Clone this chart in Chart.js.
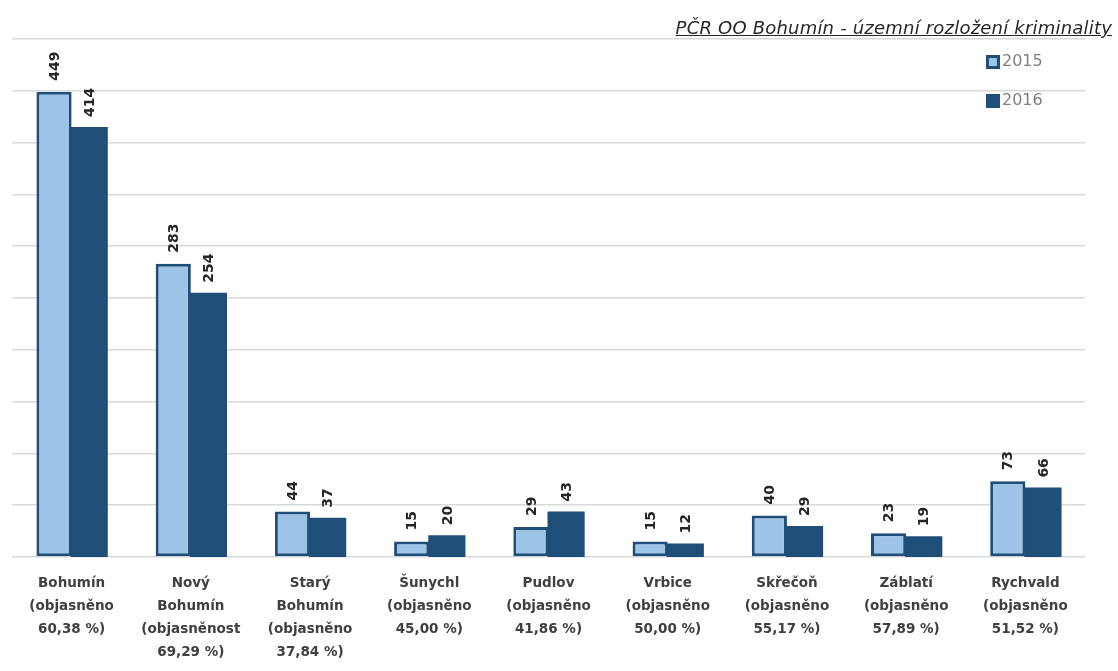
<!DOCTYPE html>
<html>
<head>
<meta charset="utf-8">
<script src="https://cdn.jsdelivr.net/npm/chart.js@4"></script>
<style>
    html, body { margin: 0; padding: 0; background: #fff; }
    #wrap { position: relative; width: 1118px; height: 671px; }
    #title {
        position: absolute; right: 6px; top: 17px;
        font: oblique 18px "DejaVu Sans", sans-serif;
        letter-spacing: 0.2px;
        color: #262626; text-decoration: underline;
        white-space: nowrap;
    }
</style>
</head>
<body>
<div id="wrap">
    <canvas id="chart" width="1118" height="671"></canvas>
    <div id="title">PČR OO Bohumín - územní rozložení kriminality</div>
</div>
<script>
// data
const categories = [
    ['Bohumín', '(objasněno', '60,38 %)'],
    ['Nový', 'Bohumín', '(objasněnost', '69,29 %)'],
    ['Starý', 'Bohumín', '(objasněno', '37,84 %)'],
    ['Šunychl', '(objasněno', '45,00 %)'],
    ['Pudlov', '(objasněno', '41,86 %)'],
    ['Vrbice', '(objasněno', '50,00 %)'],
    ['Skřečoň', '(objasněno', '55,17 %)'],
    ['Záblatí', '(objasněno', '57,89 %)'],
    ['Rychvald', '(objasněno', '51,52 %)']
];
const seriesNames = ['2015', '2016'];
const values2015 = [449, 283, 44, 15, 29, 15, 40, 23, 73];
const values2016 = [414, 254, 37, 20, 43, 12, 29, 19, 66];
const yMin = 0;
const yMax = 500;
const yStep = 50;

const LIGHT = '#9dc3e6';
const DARK = '#1f4e79';

// rotated value labels above each bar
const valueLabels = {
    id: 'valueLabels',
    afterDatasetsDraw(chart) {
        const ctx = chart.ctx;
        ctx.save();
        ctx.font = 'bold 14px "DejaVu Sans", sans-serif';
        ctx.fillStyle = '#262626';
        ctx.textAlign = 'left';
        ctx.textBaseline = 'middle';
        chart.data.datasets.forEach((ds, i) => {
            chart.getDatasetMeta(i).data.forEach((bar, j) => {
                ctx.save();
                ctx.translate(bar.x + 1, bar.y - 11);
                ctx.rotate(-Math.PI / 2);
                ctx.fillText(String(ds.data[j]), 0, 0);
                ctx.restore();
            });
        });
        ctx.restore();
    }
};

// small vertical legend in the top right corner
const cornerLegend = {
    id: 'cornerLegend',
    afterDraw(chart) {
        const ctx = chart.ctx;
        const x = 986, ys = [55, 94];
        ctx.save();
        ctx.font = '16px "DejaVu Sans", sans-serif';
        ctx.textBaseline = 'middle';
        chart.data.datasets.forEach((ds, i) => {
            const y = ys[i];
            ctx.fillStyle = ds.borderColor;
            ctx.fillRect(x, y, 14, 14);
            if (i === 0) {
                ctx.fillStyle = ds.backgroundColor;
                ctx.fillRect(x + 3, y + 3, 8, 8);
            }
            ctx.fillStyle = '#7f7f7f';
            ctx.fillText(ds.label, x + 16, y + 7);
        });
        ctx.restore();
    }
};

new Chart(document.getElementById('chart'), {
    type: 'bar',
    data: {
        labels: categories,
        datasets: [{
            label: seriesNames[0],
            data: values2015,
            backgroundColor: LIGHT,
            borderColor: DARK,
            borderWidth: 3,
            borderSkipped: false
        }, {
            label: seriesNames[1],
            data: values2016,
            backgroundColor: DARK,
            borderColor: DARK,
            borderWidth: 0,
            inflateAmount: 1
        }]
    },
    options: {
        responsive: false,
        animation: false,
        devicePixelRatio: 1,
        layout: { padding: { left: 12, right: 33, top: 39, bottom: 0 } },
        datasets: { bar: { categoryPercentage: 0.59, barPercentage: 1 } },
        plugins: {
            legend: { display: false },
            title: { display: false },
            tooltip: { enabled: false }
        },
        scales: {
            x: {
                grid: { display: false, drawTicks: false },
                border: { display: false },
                ticks: {
                    autoSkip: false,
                    maxRotation: 0,
                    padding: 15,
                    color: '#404040',
                    font: { family: 'DejaVu Sans', size: 13.5, weight: 'bold', lineHeight: 1.7 }
                },
                afterFit(scale) { scale.height = 114; }
            },
            y: {
                min: yMin,
                max: yMax,
                ticks: { display: false, stepSize: yStep },
                grid: { color: '#d9d9d9', lineWidth: 1.5, drawTicks: false },
                border: { display: false }
            }
        }
    },
    plugins: [valueLabels, cornerLegend]
});
</script>
</body>
</html>
